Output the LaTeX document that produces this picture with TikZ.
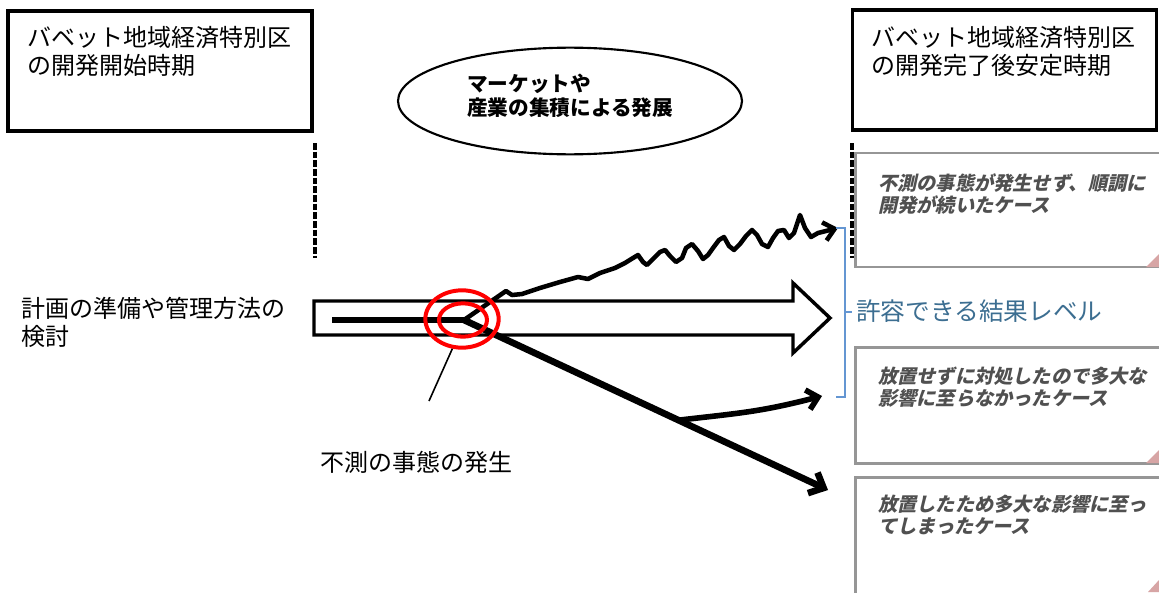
\documentclass[tikz,border=0pt]{standalone}
\usepackage{fontspec}
\newfontfamily\jp{Noto Sans CJK JP}
\newfontfamily\jpbi{Noto Sans CJK JP}[FakeSlant=0.22]
\usetikzlibrary{arrows.meta,shapes.geometric}
\definecolor{casegray}{RGB}{150,150,150}
\definecolor{casetext}{RGB}{80,80,80}
\definecolor{bracketblue}{RGB}{100,150,210}
\definecolor{labelblue}{RGB}{60,110,145}
\definecolor{dogear}{RGB}{215,165,165}
\tikzset{
  periodbox/.style={draw=black,line width=2.4pt,fill=white,minimum width=228pt,minimum height=90pt,inner sep=0pt},
  casebox/.style={draw=casegray,line width=1.9pt,fill=white,minimum width=232pt,inner sep=0pt},
  plain/.style={font=\jp\fontsize{18pt}{21pt}\selectfont,align=left,inner sep=0pt,anchor=north west},
  casetxt/.style={font=\jpbi\bfseries\fontsize{14.4pt}{16.5pt}\selectfont,text=casetext,align=left,inner sep=0pt,anchor=north west},
  divider/.style={line width=2.4pt,dash pattern=on 5pt off 1.5pt},
  redring/.style={draw=red,line width=3pt,ellipse,inner sep=0pt},
}
\begin{document}
\begin{tikzpicture}[x=0.75pt,y=-0.75pt]
\useasboundingbox (0,0) rectangle (1159,592);
\clip (0,0) rectangle (1159,592);
\fill[white] (0,0) rectangle (1159,592);

% top period boxes
\node[periodbox] (boxA) at (160,71) {};
\node[plain] (txtA) at (27,26) {バベット地域経済特別区\\の開発開始時期};
\node[periodbox] (boxB) at (1004.5,70) {};
\node[plain] (txtB) at (871,26) {バベット地域経済特別区\\の開発完了後安定時期};

% dashed dividers
\coordinate (dA1) at (315,143);
\coordinate (dA2) at (315,258);
\draw[divider] (dA1) -- (dA2);

% ellipse
\node[draw,ellipse,line width=1.6pt,minimum width=258pt,minimum height=80pt,inner sep=0pt] (ell) at (570,101) {};
\node[font=\jp\bfseries\fontsize{15.5pt}{17.5pt}\selectfont,align=left,inner sep=0pt,anchor=north west] (elltxt) at (467,74) {マーケットや\\産業の集積による発展};

% case boxes
\node[casebox,minimum height=85.5pt] (case1) at (1010,210) {};
\node[casebox,minimum height=87pt] (case2) at (1010,405.5) {};
\node[casebox,minimum height=92pt] (case3) at (1010,539) {};
\fill[dogear] (1146,267) -- (1159,254) -- (1159,267) -- cycle;
\fill[dogear] (1146,463) -- (1159,450) -- (1159,463) -- cycle;
\fill[dogear] (1148,592) -- (1159,580) -- (1159,592) -- cycle;
\node[casetxt] (c1txt) at (878,173) {不測の事態が発生せず、順調に\\開発が続いたケース};
\node[casetxt] (c2txt) at (878,367) {放置せずに対処したので多大な\\影響に至らなかったケース};
\node[casetxt] (c3txt) at (878,495) {放置したため多大な影響に至っ\\てしまったケース};

\coordinate (dB1) at (852,143);
\coordinate (dB2) at (852,258);
\draw[divider] (dB1) -- (dB2);

% left label
\node[plain] (plan) at (21,297) {計画の準備や管理方法の\\検討};

% hollow arrow
\draw[line width=2.6pt,fill=white,line join=miter]
  (314,301) -- (793,301) -- (793,283) -- (830,318) -- (793,353) -- (793,335) -- (314,335) -- cycle;

% inner line
\coordinate (in1) at (332,320);
\coordinate (ev) at (464,320);
\draw[line width=3.8pt] (in1) -- (ev);

% wavy upper path
\coordinate (upend) at (838,228);
\draw[line width=3.4pt,line join=round,-{Straight Barb[length=8pt,width=14pt]}]
  (ev) -- (506,291) -- (512,295) -- (522,294) -- (540,288) -- (560,282) -- (578,277) -- (588,279)
  -- (600,273) -- (615,268) -- (625,263) -- (633,258) -- (638,255) -- (643,262) -- (647,265)
  -- (652,260) -- (660,252) -- (665,250) -- (670,256) -- (676,262) -- (682,258) -- (686,248)
  -- (692,244) -- (698,251) -- (703,259) -- (708,255) -- (713,248) -- (719,240) -- (724,237)
  -- (729,246) -- (734,250) -- (740,244) -- (746,236) -- (752,230) -- (757,235) -- (762,244)
  -- (768,247) -- (773,238) -- (778,231) -- (784,230) -- (789,238) -- (794,233) -- (800,215)
  -- (805,228) -- (811,237) -- (818,233) -- (upend);

% lower paths
\coordinate (lowend) at (828,490);
\coordinate (branch) at (680,420);
\coordinate (midend) at (822,396);
\draw[line width=5pt,-{Straight Barb[length=9pt,width=17pt]}] (ev) -- (lowend);
\draw[line width=4.2pt,-{Straight Barb[length=8pt,width=15pt]}] (branch) .. controls (740,413) and (760,412) .. (midend);

% red rings
\node[redring,minimum width=55pt,minimum height=43pt] (ringO) at (462,319) {};
\node[redring,minimum width=36pt,minimum height=25pt] (ringI) at (463,320) {};

% event label
\node[font=\jp\fontsize{18pt}{21pt}\selectfont,inner sep=0pt] (evt) at (416,462) {不測の事態の発生};
\coordinate (ptr) at (429,401);
\draw[line width=1.2pt] (ptr) -- (ringO.-108);

% bracket
\coordinate (bt) at (836,228);
\coordinate (bb) at (836,397);
\draw[bracketblue,line width=1.4pt] (bt) -- (845,228) -- (845,397) -- (bb);
\draw[bracketblue,line width=1.4pt] (845,312) -- (852,312);
\node[font=\jp\fontsize{18.5pt}{21pt}\selectfont,text=labelblue,inner sep=0pt,anchor=west] (ok) at (856,311) {許容できる結果レベル};
\end{tikzpicture}
\end{document}
